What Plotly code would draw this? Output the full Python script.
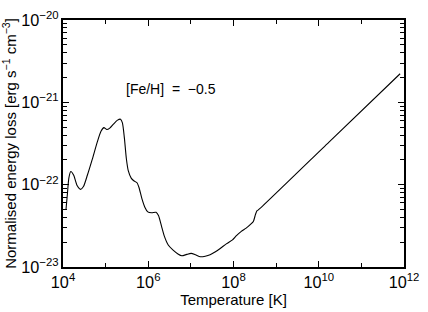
import plotly.graph_objects as go

# log10 temperature [K] and log10 normalised energy loss [erg s^-1 cm^-3]
log_T = [4.069, 4.103, 4.137, 4.183, 4.251, 4.331, 4.411, 4.480, 4.571, 4.686,
         4.800, 4.891, 4.960, 5.029, 5.097, 5.189, 5.280, 5.349, 5.394, 5.440,
         5.486, 5.531, 5.600, 5.669, 5.737, 5.783, 5.851, 5.920, 5.989, 6.080,
         6.183, 6.240, 6.309, 6.377, 6.469, 6.583, 6.697, 6.789, 6.903, 7.006,
         7.109, 7.223, 7.337, 7.451, 7.566, 7.680, 7.840, 7.977, 8.069, 8.183,
         8.297, 8.411, 8.469, 8.514, 8.549, 8.583, 10.24, 11.909]
log_L = [-22.307, -22.114, -21.920, -21.841, -21.886, -22.011, -22.057, -22.023, -21.886, -21.693,
         -21.489, -21.352, -21.307, -21.330, -21.313, -21.261, -21.216, -21.205, -21.250, -21.432,
         -21.682, -21.830, -21.920, -21.955, -21.977, -22.034, -22.170, -22.273, -22.330, -22.341,
         -22.335, -22.375, -22.500, -22.625, -22.733, -22.795, -22.841, -22.864, -22.847, -22.835,
         -22.852, -22.875, -22.869, -22.852, -22.818, -22.778, -22.716, -22.670, -22.619, -22.568,
         -22.528, -22.477, -22.443, -22.364, -22.318, -22.307, -21.483, -20.653]

T = [10 ** v for v in log_T]
L = [10 ** v for v in log_L]

FONT = "Liberation Sans"
NB = "\u00a0"

fig = go.Figure()
fig.add_trace(go.Scatter(x=T, y=L, mode="lines",
                         line=dict(color="black", width=1.1, shape="spline", smoothing=0.6),
                         showlegend=False, hoverinfo="skip"))

axis_common = dict(
    showgrid=False, zeroline=False, showline=True, linecolor="black", linewidth=1.5,
    mirror="allticks", ticks="inside", tickcolor="black", tickwidth=1,
    exponentformat="power", ticklabeloverflow="allow",
    tickfont=dict(family=FONT, size=13, color="black"),
)

fig.update_xaxes(type="log", range=[4, 12], dtick=2, ticklen=6,
                 minor=dict(ticks="inside", dtick=1, ticklen=4, tickcolor="black", showgrid=False),
                 title=dict(text="Temperature [K]", font=dict(family=FONT, size=15, color="black"),
                            standoff=2),
                 **axis_common)
fig.update_yaxes(type="log", range=[-23, -20], dtick=1, ticklen=6,
                 minor=dict(ticks="inside", dtick="D1", ticklen=4, tickcolor="black", showgrid=False),
                 title=dict(text="Normalised energy loss [erg s<sup>−1</sup> cm<sup>−3</sup>]",
                            font=dict(family=FONT, size=15, color="black"), standoff=2),
                 **axis_common)

fig.add_annotation(x=5.44, y=-20.84, xref="x", yref="y",
                   text=f"[Fe/H]{NB}{NB}={NB}{NB}−0.5", showarrow=False, xanchor="left",
                   font=dict(family=FONT, size=14, color="black"))

fig.update_layout(width=428, height=312, margin=dict(l=62, r=16, t=9, b=39),
                  plot_bgcolor="white", paper_bgcolor="white")

fig.write_html("out.html")
